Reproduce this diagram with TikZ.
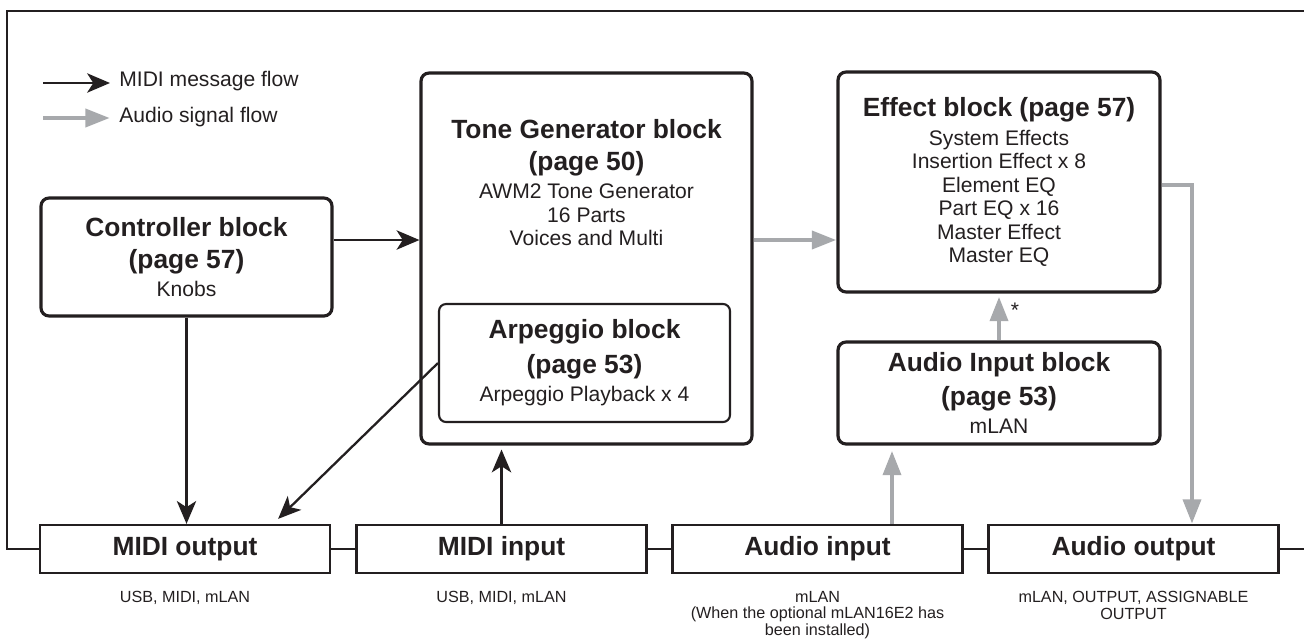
\documentclass[tikz,border=0pt]{standalone}
\usepackage{fontspec}
\setmainfont{Liberation Sans}
\usetikzlibrary{arrows.meta, positioning, calc}
\definecolor{ymhInk}{HTML}{231F20}
\definecolor{ymhGray}{HTML}{A7A9AC}
\newcommand{\blocktitle}[1]{{\fontsize{15}{18}\selectfont\bfseries #1}}

\begin{document}
\begin{tikzpicture}[
  x=0.02cm, y=-0.02cm,
  every node/.style={text=ymhInk},
  blocktext/.style={align=center, font=\fontsize{12}{13.4}\selectfont},
  block/.style={rectangle, draw=ymhInk, line width=1.8pt, rounded corners=0.16cm, blocktext},
  subblock/.style={block, line width=1.2pt, rounded corners=0.14cm},
  port/.style={rectangle, draw=ymhInk, line width=1.3pt, minimum width=5.8cm, minimum height=0.96cm, font=\fontsize{15}{18}\selectfont\bfseries},
  portnote/.style={align=center, inner sep=0pt, font=\fontsize{9.2}{9.6}\selectfont},
  legendtext/.style={anchor=west, inner sep=0pt, font=\fontsize{12}{14}\selectfont},
  frameline/.style={draw=ymhInk, line width=0.9pt},
  midi/.style={-{Stealth[length=13pt, width=11pt, inset=3.5pt]}, line width=1.3pt, draw=ymhInk},
  audio/.style={-{Triangle[length=14pt, width=10pt]}, line width=2.8pt, draw=ymhGray},
]
\useasboundingbox (0,0) rectangle (1304,639);

% === LEGEND ===
\node[legendtext] (legmidi) at (119,81) {MIDI message flow};
\node[legendtext] (legaudio) at (119,117) {Audio signal flow};
\coordinate (legmidistart) at (43,83);
\coordinate (legaudiostart) at (43,118);
\draw[midi, shorten >=0.18cm] (legmidistart) -- (legmidistart -| legmidi.west);
\draw[audio, shorten >=0.18cm] (legaudiostart) -- (legaudiostart -| legaudio.west);

% === BLOCKS ===
\node[block, minimum width=5.82cm, minimum height=2.36cm] (ctrl) at (186.5,257) {\blocktitle{Controller block}\\[4.8pt]\blocktitle{(page 57)}\\[2.6pt]Knobs};
\node[block, minimum width=6.62cm, minimum height=7.42cm] (tone) at (586.5,258.5) {};
\node[blocktext, anchor=north, inner sep=0pt] (tonetext) at (586.5,119) {\blocktitle{Tone Generator block}\\[4.8pt]\blocktitle{(page 50)}\\[2.6pt]AWM2 Tone Generator\\16 Parts\\Voices and Multi};
\node[subblock, minimum width=5.82cm, minimum height=2.36cm] (arp) at (584.5,363) {\blocktitle{Arpeggio block}\\[4.8pt]\blocktitle{(page 53)}\\[2.6pt]Arpeggio Playback x 4};
\node[block, minimum width=6.44cm, minimum height=4.40cm] (effect) at (999,182) {\blocktitle{Effect block (page 57)}\\[3.1pt]System Effects\\Insertion Effect x 8\\Element EQ\\Part EQ x 16\\Master Effect\\Master EQ};
\node[block, minimum width=6.44cm, minimum height=2.04cm] (audinblk) at (999,393) {\blocktitle{Audio Input block}\\[4.8pt]\blocktitle{(page 53)}\\[2.6pt]mLAN};

% === PORTS ===
\node[port] (midiout) at (185,549) {MIDI output};
\node[port] (midiin) at (501.5,549) {MIDI input};
\node[port] (audioin) at (817.5,549) {Audio input};
\node[port] (audioout) at (1133.5,549) {Audio output};

\node[portnote, below=0.33cm of midiout] (midioutnote) {USB, MIDI, mLAN};
\node[portnote, below=0.33cm of midiin] (midiinnote) {USB, MIDI, mLAN};
\node[portnote, below=0.33cm of audioin] (audioinnote) {mLAN\\(When the optional mLAN16E2 has\\been installed)};
\node[portnote, below=0.33cm of audioout] (audiooutnote) {mLAN, OUTPUT, ASSIGNABLE\\OUTPUT};

% === FRAME ===
\coordinate (frameleft) at (7,549);
\coordinate (frametopleft) at (7,11);
\coordinate (frametopright) at (1304,11);
\coordinate (frameright) at (1304,549);
\draw[frameline] (midiout.west) -- (frameleft) -- (frametopleft) -- (frametopright);
\draw[frameline] (midiout.east) -- (midiin.west);
\draw[frameline] (midiin.east) -- (audioin.west);
\draw[frameline] (audioin.east) -- (audioout.west);
\draw[frameline] (audioout.east) -- (frameright);

% === MIDI FLOW ===
\coordinate (ctrlout) at ([yshift=0.34cm]ctrl.east);
\draw[midi] (ctrlout) -- (ctrlout -| tone.west);
\draw[midi] (ctrl.south) -- (ctrl.south |- midiout.north);
\coordinate (midioutin) at ([xshift=-1.06cm, yshift=0.1cm]midiout.north east);
\draw[midi] (arp.west) -- (midioutin);
\draw[midi, shorten >=0.08cm] (midiin.north) -- (midiin.north |- tone.south);

% === AUDIO FLOW ===
\coordinate (toneout) at ([yshift=0.37cm]tone.east);
\draw[audio] (toneout) -- (toneout -| effect.west);
\draw[audio, shorten >=0.06cm] (audinblk.north) -- (effect.south);
\node[font=\fontsize{12}{14}\selectfont] (asterisk) at (1015,310) {*};
\coordinate (audioinup) at ([xshift=1.49cm]audioin.north);
\draw[audio, shorten >=0.1cm] (audioinup) -- (audioinup |- audinblk.south);
\coordinate (effectout) at ([yshift=-0.06cm]effect.east);
\coordinate (audiooutin) at ([xshift=1.17cm]audioout.north);
\draw[audio] (effectout) -| (audiooutin);

\end{tikzpicture}
\end{document}
